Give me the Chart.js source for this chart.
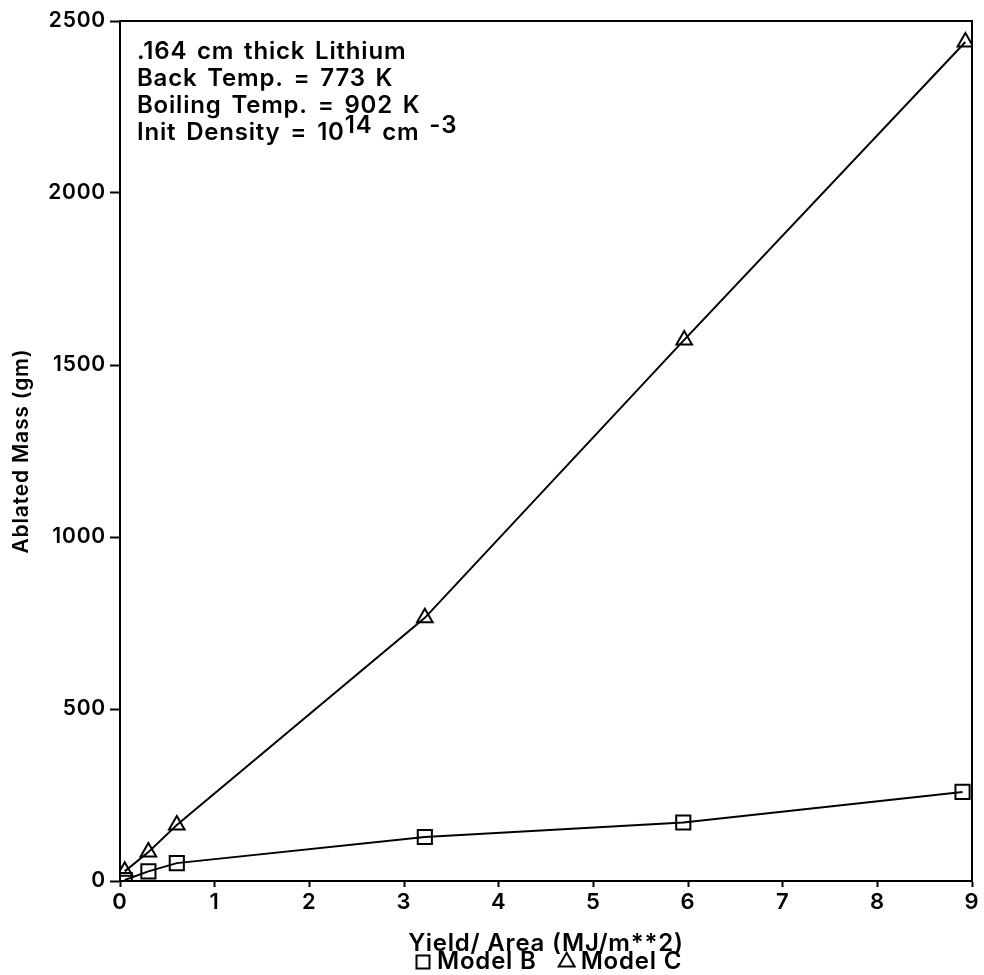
<!DOCTYPE html>
<html>
<head>
<meta charset="utf-8">
<title>Ablated Mass vs Yield</title>
<script src="https://cdn.jsdelivr.net/npm/chart.js@4.4.1/dist/chart.umd.min.js"></script>
<style>
    html, body { margin: 0; padding: 0; background: #fff; }
    #wrap { width: 984px; height: 975px; }
</style>
</head>
<body>
<div id="wrap"><canvas id="chart"></canvas></div>
<script>
//--- Data
var yieldB = [0.05, 0.3, 0.6, 3.22, 5.95, 8.9];
var massB = [3, 28, 52, 128, 170, 259];
var yieldC = [0.05, 0.3, 0.6, 3.22, 5.96, 8.93];
var massC = [28, 84, 163, 765, 1573, 2439];
var seriesNames = ['Model B', 'Model C'];
var xTicks = [0, 1, 2, 3, 4, 5, 6, 7, 8, 9];
var yTicks = [0, 500, 1000, 1500, 2000, 2500];
var noteLines = ['.164 cm thick Lithium', 'Back Temp. = 773 K', 'Boiling Temp. = 902 K'];
var densityParts = ['Init Density = 10', '14', ' cm', ' -3'];

var fontName = 'Inter, "Liberation Sans", Arial, sans-serif';
var fontWeight = '600';
var spread = '0.8px';

function toPoints(xs, ys) {
    var pts = [];
    for (var i = 0; i < xs.length; i++) {
        pts.push({ x: xs[i], y: ys[i] });
    }
    return pts;
}

//--- the old plotter font is wide, spread the letters a little
var spacingPlugin = {
    id: 'spacing',
    beforeDraw: function (chart) {
        if ('letterSpacing' in chart.ctx) chart.ctx.letterSpacing = spread;
    }
};

//--- box round the plot area + the text block in the corner
var framePlugin = {
    id: 'frame',
    afterDraw: function (chart) {
        var ctx = chart.ctx;
        var a = chart.chartArea;
        ctx.save();
        ctx.strokeStyle = '#000';
        ctx.lineWidth = 2;
        ctx.beginPath();
        ctx.moveTo(a.left, a.top);
        ctx.lineTo(a.right, a.top);
        ctx.lineTo(a.right, a.bottom);
        ctx.stroke();

        ctx.fillStyle = '#000';
        ctx.textBaseline = 'middle';
        ctx.font = fontWeight + ' 24px ' + fontName;
        if ('wordSpacing' in ctx) ctx.wordSpacing = '3px';
        if ('letterSpacing' in ctx) ctx.letterSpacing = spread;
        var x = a.left + 17;
        var y = a.top + 31;
        var step = 27;
        for (var i = 0; i < noteLines.length; i++) {
            ctx.fillText(noteLines[i], x, y + i * step);
        }
        var yy = y + noteLines.length * step;
        var cx = x;
        ctx.fillText(densityParts[0], cx, yy);
        cx += ctx.measureText(densityParts[0]).width;
        ctx.fillText(densityParts[1], cx, yy - 7);
        cx += ctx.measureText(densityParts[1]).width;
        ctx.fillText(densityParts[2], cx, yy);
        cx += ctx.measureText(densityParts[2]).width;
        ctx.fillText(densityParts[3], cx, yy - 7);
        ctx.restore();
    }
};

function plainTick(v) { return String(v); }

var ctx = document.getElementById('chart');
var myChart = new Chart(ctx, {
    type: 'scatter',
    data: {
        datasets: [{
            label: seriesNames[0],
            data: toPoints(yieldB, massB),
            showLine: true,
            borderColor: '#000',
            backgroundColor: '#fff',
            borderWidth: 2,
            pointStyle: 'rect',
            pointRadius: 10,
            pointBorderWidth: 2,
            pointBackgroundColor: 'rgba(255,255,255,0)'
        }, {
            label: seriesNames[1],
            data: toPoints(yieldC, massC),
            showLine: true,
            borderColor: '#000',
            backgroundColor: '#fff',
            borderWidth: 2,
            pointStyle: 'triangle',
            pointRadius: 9,
            pointBorderWidth: 2,
            pointBackgroundColor: 'rgba(255,255,255,0)'
        }]
    },
    options: {
        responsive: true,
        maintainAspectRatio: false,
        animation: false,
        layout: { padding: { left: 0, right: 11, top: 21, bottom: -9 } },
        plugins: {
            tooltip: { enabled: false },
            legend: {
                position: 'bottom',
                fullSize: false,
                labels: {
                    usePointStyle: true,
                    boxWidth: 4,
                    boxHeight: 13,
                    padding: 28,
                    color: '#000',
                    font: { family: fontName, size: 24, weight: fontWeight }
                }
            }
        },
        scales: {
            x: {
                type: 'linear',
                min: 0,
                max: 9,
                afterBuildTicks: function (scale) {
                    scale.ticks = xTicks.map(function (v) { return { value: v }; });
                },
                afterFit: function (scale) { scale.height = 41; },
                grid: { drawOnChartArea: false, drawTicks: true, tickLength: 6, tickColor: '#000', tickWidth: 2 },
                border: { color: '#000', width: 2 },
                ticks: { color: '#000', padding: 2, callback: plainTick, font: { family: fontName, size: 22, weight: fontWeight } },
                title: {
                    display: true,
                    text: 'Yield/ Area (MJ/m**2)',
                    color: '#000',
                    padding: { top: 0, bottom: -36 },
                    font: { family: fontName, size: 24, weight: fontWeight }
                }
            },
            y: {
                type: 'linear',
                min: 0,
                max: 2500,
                afterBuildTicks: function (scale) {
                    scale.ticks = yTicks.map(function (v) { return { value: v }; });
                },
                afterFit: function (scale) { scale.width = 120; },
                grid: { drawOnChartArea: false, drawTicks: true, tickLength: 10, tickColor: '#000', tickWidth: 2 },
                border: { color: '#000', width: 2 },
                ticks: { color: '#000', padding: 4, callback: plainTick, font: { family: fontName, size: 21, weight: fontWeight } },
                title: {
                    display: true,
                    text: 'Ablated Mass (gm)',
                    color: '#000',
                    padding: { top: 9, bottom: 0 },
                    font: { family: fontName, size: 21, weight: fontWeight }
                }
            }
        }
    },
    plugins: [spacingPlugin, framePlugin]
});
console.log(myChart.chartArea);
</script>
</body>
</html>
